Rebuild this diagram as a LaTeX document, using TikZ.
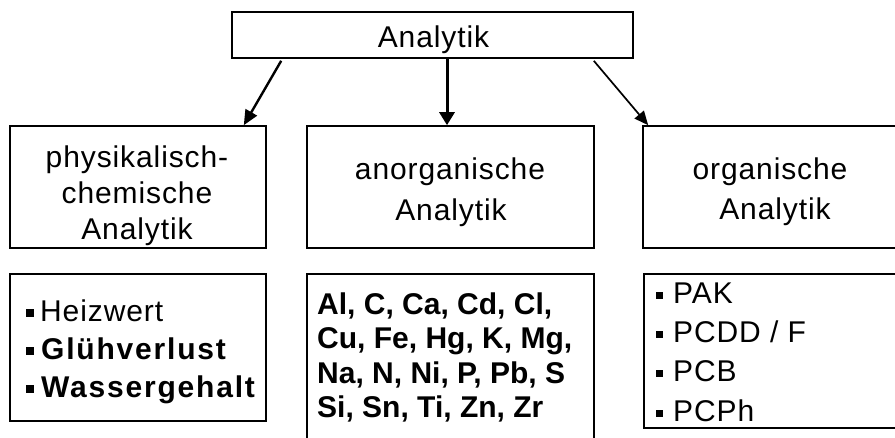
\documentclass[tikz,border=0pt]{standalone}
\usepackage{fontspec}
\setmainfont{Liberation Sans}[LetterSpace=3]
\usetikzlibrary{arrows.meta,calc}
\newcommand{\bul}[1]{\rule[4pt]{#1}{#1}}
\begin{document}
\begin{tikzpicture}[x=1pt,y=-1pt,
  box/.style={draw=black,line width=1.6pt,rectangle,inner sep=0pt},
  txt/.style={inner sep=0pt,anchor=base,font=\fontsize{30}{36}\selectfont},
  ltxt/.style={inner sep=0pt,anchor=base west,font=\fontsize{30}{36}\selectfont},
  lbtxt/.style={ltxt,font=\fontsize{30}{36}\selectfont\addfontfeature{LetterSpace=6}},
  btxt/.style={inner sep=0pt,anchor=base west,font=\fontsize{30}{36}\selectfont\bfseries\addfontfeature{LetterSpace=0}},
  arr/.style={-{Triangle[length=15pt,width=13pt]},line width=2pt}]
\clip (0,0) rectangle (895,437);
\fill[white] (0,0) rectangle (895,437);
% boxes
\node[box,minimum width=401pt,minimum height=46pt] (b0) at (432.5,35) {};
\node[box,minimum width=256pt,minimum height=122pt] (bL) at (138,187) {};
\node[box,minimum width=287pt,minimum height=122pt] (bM) at (450.5,187) {};
\node[box,minimum width=262pt,minimum height=122pt] (bR) at (774,187) {};
\node[box,minimum width=256pt,minimum height=147pt] (dL) at (138,347.5) {};
\node[box,minimum width=287pt,minimum height=171pt] (dM) at (450.5,359.5) {};
\node[box,minimum width=262pt,minimum height=154pt] (dR) at (775,351) {};
% texts
\node[txt] (t0) at (433.5,47) {Analytik};
\node[txt] (tL1) at (137,167) {physikalisch-};
\node[txt] (tL2) at (137,203) {chemische};
\node[txt] (tL3) at (137,239) {Analytik};
\node[txt] (tM1) at (450,179) {anorganische};
\node[txt] (tM2) at (451,220) {Analytik};
\node[txt] (tR1) at (770,179) {organische};
\node[txt] (tR2) at (775,219) {Analytik};
% bottom left
\node[ltxt] (h1) at (26,321) {\bul{8pt}\hspace{6pt}Heizwert};
\node[lbtxt] (h2) at (26,359) {\bul{8pt}\hspace{7pt}\bfseries Glühverlust};
\node[lbtxt] (h3) at (26,397) {\bul{8pt}\hspace{7pt}\bfseries Wassergehalt};
% bottom middle
\node[btxt] (e1) at (317,314) {Al, C, Ca, Cd, Cl,};
\node[btxt] (e2) at (317,348) {Cu, Fe, Hg, K, Mg,};
\node[btxt] (e3) at (317,383) {Na, N, Ni, P, Pb, S};
\node[btxt] (e4) at (317,417) {Si, Sn, Ti, Zn, Zr};
% bottom right
\node[ltxt] (o1) at (656,303) {\bul{7pt}\hspace{10pt}PAK};
\node[ltxt] (o2) at (656,342) {\bul{7pt}\hspace{10pt}PCDD / F};
\node[ltxt] (o3) at (656,381) {\bul{7pt}\hspace{10pt}PCB};
\node[ltxt] (o4) at (656,421) {\bul{7pt}\hspace{10pt}PCPh};
% arrows
\draw[arr,line width=2.4pt] ($(b0.south west)+(50,2)$) -- ($(bL.north east)+(-23,0)$);
\draw[arr,line width=3pt,-{Triangle[length=13pt,width=15pt]}] ($(b0.south)+(14.5,0)$) -- ($(bM.north)+(-3.5,0)$);
\draw[arr,line width=1.7pt,-{Triangle[length=14pt,width=12pt]}] ($(b0.south east)+(-40,2)$) -- ($(bR.north west)+(6,0)$);
\end{tikzpicture}
\end{document}
